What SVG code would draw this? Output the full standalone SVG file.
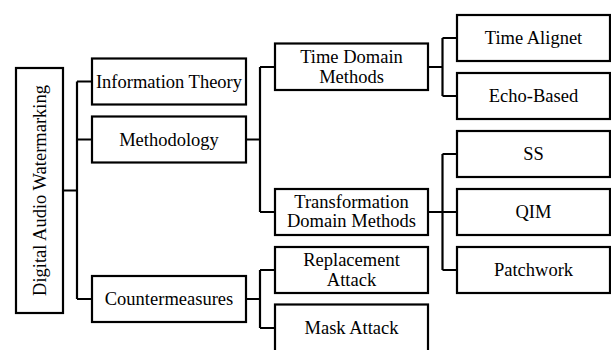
<svg xmlns="http://www.w3.org/2000/svg" width="611" height="350" viewBox="0 0 611 350">
<style>
.box{fill:#fff;stroke:#000;stroke-width:2.2}
text{font-family:'Liberation Serif',serif;font-size:18.5px;fill:#000;text-anchor:middle}
.c{fill:none;stroke:#000;stroke-width:2.2}
</style>
<rect width="611" height="350" fill="#fff"/>
<g id="connectors">
<path class="c" d="M63 190.5H77M77 81.5V299M77 81.5H92M77 139.5H92M77 299H92"/>
<path class="c" d="M246 139.5H260M260 67V212M260 67H275M260 212H275"/>
<path class="c" d="M246 299H260M260 270V328M260 270H275M260 328H275"/>
<path class="c" d="M428 67H442.5M442.5 38V96M442.5 38H457M442.5 96H457"/>
<path class="c" d="M428 212H442.5M442.5 154V270M442.5 154H457M442.5 212H457M442.5 270H457"/>
</g>
<g font-family="Liberation Serif, serif">
<g id="root"><rect class="box" x="16" y="68" width="47" height="245"/><text transform="translate(45.5 190.5) rotate(-90)">Digital Audio Watermarking</text></g>
<g id="info"><rect class="box" x="92" y="58.5" width="154" height="46"/><text x="169" y="87.5">Information Theory</text></g>
<g id="method"><rect class="box" x="92" y="116.5" width="154" height="46"/><text x="169" y="145.5">Methodology</text></g>
<g id="counter"><rect class="box" x="92" y="276" width="154" height="46"/><text x="169" y="305">Countermeasures</text></g>
<g id="time"><rect class="box" x="275" y="43.5" width="153" height="46.5"/><text x="351.5" y="63.3">Time Domain</text><text x="351.5" y="82.7">Methods</text></g>
<g id="transform"><rect class="box" x="275" y="189" width="153" height="46"/><text x="351.5" y="207.5">Transformation</text><text x="351.5" y="227.3">Domain Methods</text></g>
<g id="replace"><rect class="box" x="275" y="247" width="153" height="46"/><text x="351.5" y="265.7">Replacement</text><text x="351.5" y="285.7">Attack</text></g>
<g id="mask"><rect class="box" x="275" y="304.5" width="153" height="47"/><text x="351.5" y="334">Mask Attack</text></g>
<g id="align"><rect class="box" x="457" y="15" width="153" height="46"/><text x="533.5" y="44">Time Alignet</text></g>
<g id="echo"><rect class="box" x="457" y="73" width="153" height="46"/><text x="533.5" y="102">Echo-Based</text></g>
<g id="ss"><rect class="box" x="457" y="131" width="153" height="46"/><text x="533.5" y="160">SS</text></g>
<g id="qim"><rect class="box" x="457" y="189" width="153" height="46"/><text x="533.5" y="218">QIM</text></g>
<g id="patch"><rect class="box" x="457" y="247" width="153" height="46"/><text x="533.5" y="276">Patchwork</text></g>
</g>
</svg>
